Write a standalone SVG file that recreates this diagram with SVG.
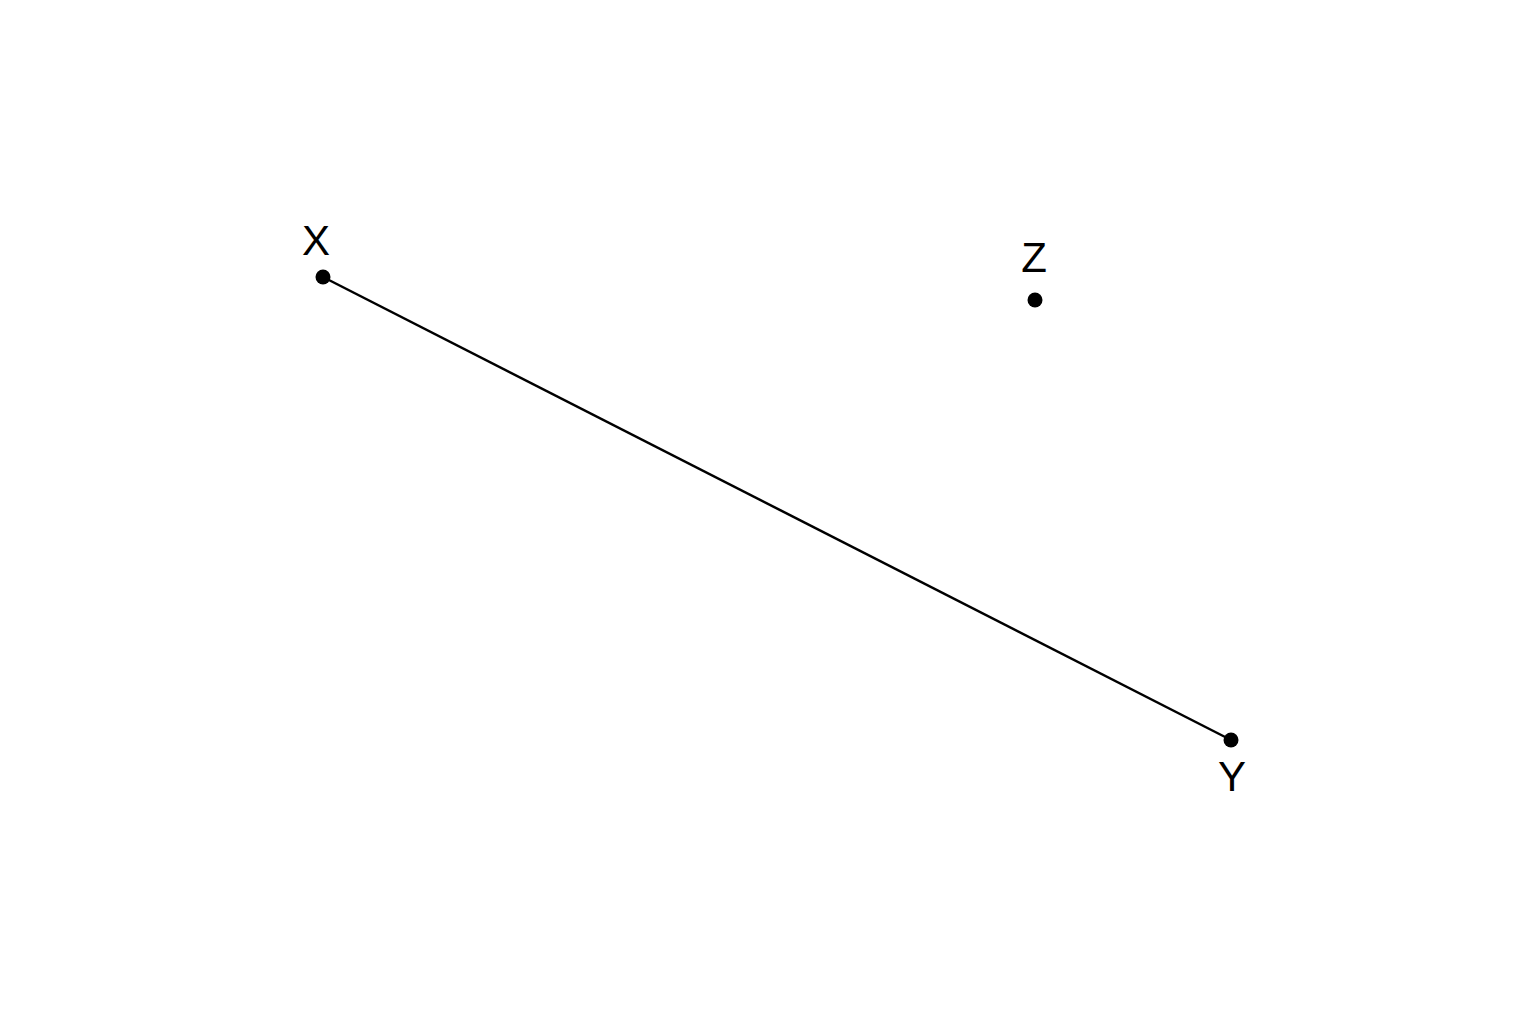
<svg xmlns="http://www.w3.org/2000/svg" width="1536" height="1024" viewBox="0 0 1536 1024">
<style>
.pt{fill:#000}
.lbl{font-family:"Liberation Sans",Arial,sans-serif;font-size:42px;fill:#000;text-anchor:middle}
.edge{stroke:#000;stroke-width:2.5;fill:none}
</style>
<rect width="1536" height="1024" fill="#fff"/>
<g id="connectors">
<line class="edge" x1="323" y1="277" x2="1231" y2="740"/>
</g>
<g id="X">
<circle class="pt" cx="323" cy="277" r="7.5"/>
<text class="lbl" x="316" y="255">X</text>
</g>
<g id="Z">
<circle class="pt" cx="1035" cy="300" r="7.5"/>
<text class="lbl" x="1034" y="272">Z</text>
</g>
<g id="Y">
<circle class="pt" cx="1231" cy="740" r="7.5"/>
<text class="lbl" x="1232" y="791">Y</text>
</g>
</svg>
